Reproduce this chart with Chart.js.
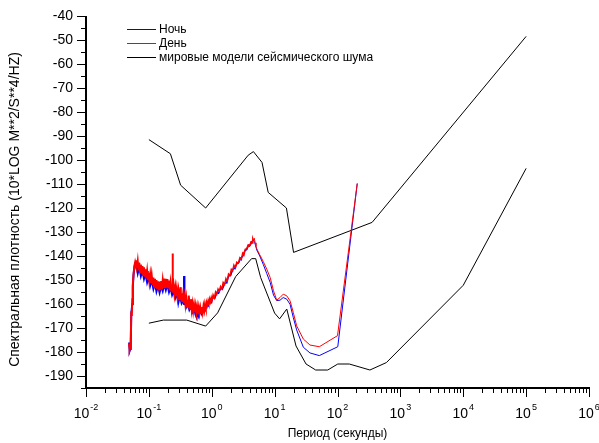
<!DOCTYPE html>
<html><head><meta charset="utf-8">
<script src="https://cdn.jsdelivr.net/npm/chart.js@4/dist/chart.umd.min.js"></script>
<style>html,body{margin:0;padding:0;background:#fff}#wrap{width:599px;height:443px}</style>
</head><body><div id="wrap"><canvas id="c" width="599" height="443"></canvas></div>
<script>
const seriesLabels = ['Ночь', 'День', 'мировые модели сейсмического шума'];
const xTitle = 'Период (секунды)';
const yTitle = 'Спектральная плотность (10*LOG M**2/S**4/HZ)';

const dayPeriods = [
 0.0485,0.0495,0.0505,0.0515,0.0525,0.0535,0.0545,0.0555,0.057,0.059,
 0.0605,0.062,0.0628,0.0645,0.0665,0.0685,0.0704,0.0725,0.0746,0.0768,
 0.079,0.0812,0.0836,0.086,0.0886,0.091,0.0938,0.0965,0.0993,0.102,
 0.105,0.108,0.111,0.115,0.118,0.121,0.125,0.128,0.132,0.136,
 0.14,0.144,0.148,0.152,0.157,0.161,0.166,0.171,0.176,0.181,
 0.186,0.191,0.197,0.203,0.209,0.215,0.221,0.228,0.234,0.2385,
 0.2395,0.241,0.248,0.255,0.263,0.27,0.278,0.286,0.295,0.303,
 0.312,0.32,0.322,0.331,0.34,0.35,0.36,0.371,0.382,0.393,
 0.404,0.416,0.428,0.43,0.44,0.453,0.466,0.48,0.494,0.508,
 0.523,0.538,0.554,0.57,0.586,0.603,0.621,0.639,0.658,0.677,
 0.697,0.717,0.738,0.76,0.781,0.805,0.827,0.85,0.876,0.9,
 0.928,0.955,0.983,1.01,1.05,1.1,1.15,1.2,1.26,1.32,
 1.38,1.45,1.52,1.6,1.68,1.76,1.85,1.95,2.05,2.15,
 2.25,2.38,2.5,2.65,2.8,2.95,3.1,3.25,3.4,3.6,
 3.8,4.0,4.2,4.4,4.5,4.6,4.75,4.9,5.05,5.2,
 5.8,6.6,7.5,8.5,9.6,10.8,12.2,13.7,15.6,17.6,
 19.8,22.4,28.6,36.5,51.4,100,206
];
const dayValues = [
 -176.5,-179,-178.2,-176,-163,-165,-158,-152,-147.5,-144,
 -142.6,-143.8,-141.8,-145,-142.2,-146,-142.9,-146.8,-143.6,-147.3,
 -144.2,-147.9,-144.7,-148.6,-145.6,-149.3,-146.3,-150,-147,-150.6,
 -147.8,-151.2,-148.1,-152,-149,-152.8,-149.5,-153.4,-150,-153.8,
 -150.6,-154.3,-150.8,-154.2,-150.5,-153.9,-150.2,-153.3,-149.4,-153,
 -149.5,-153.1,-149.6,-153.4,-150.2,-154.2,-151.2,-154.8,-151.9,-139,
 -154,-155.3,-152.6,-156,-153.2,-156.6,-153.8,-157.3,-154.4,-157.9,
 -155,-153,-158.5,-155.6,-159.1,-156.2,-159.6,-156.9,-160.3,-157.6,
 -161,-158.2,-161.5,-156.5,-158.9,-162,-158,-162.3,-159.9,-162.9,
 -160.5,-163.5,-160.9,-163.8,-161.3,-164,-161.5,-163.9,-161.6,-163.8,
 -161.3,-163.4,-160.8,-162.6,-160,-161.6,-159.2,-160.6,-158.5,-159.8,
 -157.8,-159.2,-157.3,-158.5,-156.2,-157.5,-155,-156,-153.8,-154.8,
 -152.7,-153.7,-151,-151.9,-149.4,-150.6,-147.5,-148.1,-145.6,-146.2,
 -143.8,-145,-142.6,-143,-140.8,-141.5,-138.9,-139.6,-137.2,-137,
 -135.4,-135.8,-134.2,-134.6,-132.8,-133.5,-132.6,-134.5,-135.8,-137,
 -139.5,-142.3,-145.5,-149,-154.5,-158.4,-157.3,-155.9,-156.6,-158.7,
 -163.5,-169.1,-174.6,-177.1,-177.8,-173.2,-109.8
];

const nightPeriods = [
 0.0485,0.0495,0.0505,0.0515,0.0525,0.0545,0.0555,0.057,0.059,0.0605,
 0.0628,0.0665,0.0704,0.0746,0.079,0.0836,0.0886,0.0938,0.0993,0.105,
 0.111,0.118,0.125,0.132,0.14,0.148,0.157,0.166,0.176,0.186,
 0.197,0.209,0.221,0.234,0.248,0.263,0.278,0.29,0.296,0.3,
 0.312,0.331,0.35,0.36,0.3625,0.365,0.371,0.393,0.416,0.44,
 0.466,0.494,0.523,0.554,0.575,0.586,0.621,0.658,0.697,0.738,
 0.781,0.827,0.876,0.928,0.983,1.05,1.12,1.2,1.28,1.38,
 1.48,1.6,1.72,1.85,2.0,2.15,2.3,2.5,2.7,2.9,
 3.1,3.35,3.6,3.85,4.1,4.35,4.6,4.8,5.05,5.2,
 5.8,6.6,7.5,8.5,9.6,10.8,12.2,13.7,15.6,17.6,
 19.8,22.4,28.6,36.5,51.4,101,206
];
const nightValues = [
 -176,-179.5,-178.8,-177,-164,-160,-153,-148,-144.5,-143.2,
 -143.5,-147.2,-144.5,-148.3,-146,-149.6,-147.4,-151,-148.8,-152.3,
 -150,-153.7,-151.3,-154.8,-152.4,-155.3,-152.6,-154.6,-151.8,-154.2,
 -151.7,-155,-153,-156.2,-154.4,-157.5,-155.6,-158.3,-154.5,-158.6,
 -156.8,-159.6,-158,-160.3,-148.3,-160.4,-158.6,-161.3,-159.9,-162.4,
 -161,-163.3,-161.9,-164.6,-165.6,-162.7,-165,-162.8,-164.3,-162,
 -162.6,-160.3,-160.9,-158.8,-159.4,-157.2,-157.6,-155.2,-155.5,-153.6,
 -153.8,-151.4,-151.2,-148.4,-148.1,-145.6,-145.2,-143.3,-142.6,-140.8,
 -140.1,-137.9,-137.3,-135.5,-135.4,-134,-133.3,-134.2,-136.3,-137.5,
 -140,-143.5,-147.3,-151,-156.3,-158.6,-158.4,-157.3,-158,-160.1,
 -165.6,-170.8,-178,-180.4,-181.5,-177.8,-109.8
];

// world noise models (low and high)
const lowModelPeriods = [0.1,0.17,0.4,0.8,1.24,2.4,4.3,5,6,10,12,15.6,21.9,31.6,45,70,101,154,328,600,10000,100000];
const lowModelValues = [-168.0,-166.7,-166.7,-169.2,-163.7,-148.6,-141.1,-141.1,-149.0,-163.8,-166.2,-162.1,-177.5,-185.0,-187.5,-187.5,-185.0,-185.0,-187.5,-184.4,-152.2,-103.5];
const highModelPeriods = [0.1,0.22,0.32,0.8,3.8,4.6,6.3,7.9,15.4,20,354.8,100000];
const highModelValues = [-91.5,-97.4,-110.5,-120.0,-98.0,-96.5,-101.0,-113.5,-120.0,-138.5,-126.0,-48.5];

const xTickValues = [1e-2,1e-1,1e0,1e1,1e2,1e3,1e4,1e5,1e6];
const xTickExponents = ['-2','-1','0','1','2','3','4','5','6'];
const yTickValues = [-190,-180,-170,-160,-150,-140,-130,-120,-110,-100,-90,-80,-70,-60,-50,-40];
const yMinorValues = [-195,-185,-175,-165,-155,-145,-135,-125,-115,-105,-95,-85,-75,-65,-55,-45];

const seriesColors = {night: '#0000ff', day: '#ff0000', model: '#000000'};

const pts = (px, py) => px.map((p, i) => ({x: p, y: py[i]}));
const FONT = '"Liberation Sans", Arial, sans-serif';
Chart.defaults.font.family = FONT;
Chart.defaults.color = '#000';

const noisyWidth = c => (c.p0.parsed.x < 0.8 ? 2 : (c.p0.parsed.x < 4.6 ? 1.5 : 1));

const axesPlugin = {
  id: 'originAxes',
  afterDraw(chart) {
    const {ctx, chartArea: a, scales: {x, y}} = chart;
    ctx.save();
    ctx.strokeStyle = '#000';
    ctx.fillStyle = '#000';
    // ticks
    ctx.lineWidth = 1;
    ctx.beginPath();
    xTickValues.forEach(v => {
      const px = Math.round(x.getPixelForValue(v)) + 0.5;
      ctx.moveTo(px, a.bottom); ctx.lineTo(px, a.bottom + 9);
    });
    xTickValues.slice(0, -1).forEach(v => {
      for (let m = 2; m <= 9; m++) {
        const px = Math.round(x.getPixelForValue(v * m)) + 0.5;
        ctx.moveTo(px, a.bottom); ctx.lineTo(px, a.bottom + 5);
      }
    });
    yTickValues.forEach(v => {
      const py = Math.round(y.getPixelForValue(v)) + 0.5;
      ctx.moveTo(a.left, py); ctx.lineTo(a.left - 9, py);
    });
    yMinorValues.forEach(v => {
      const py = Math.round(y.getPixelForValue(v)) + 0.5;
      ctx.moveTo(a.left, py); ctx.lineTo(a.left - 5, py);
    });
    ctx.stroke();
    // axis lines
    ctx.lineWidth = 2;
    ctx.beginPath();
    ctx.moveTo(a.left, a.top); ctx.lineTo(a.left, a.bottom + 1);
    ctx.moveTo(a.left - 1, a.bottom); ctx.lineTo(a.right + 1, a.bottom);
    ctx.stroke();
    // x tick labels: 10 with superscript exponent
    ctx.textBaseline = 'alphabetic';
    ctx.textAlign = 'left';
    xTickValues.forEach((v, i) => {
      const px = x.getPixelForValue(v);
      const e = xTickExponents[i];
      ctx.font = '14px ' + FONT;
      const w1 = ctx.measureText('10').width;
      ctx.font = '9px ' + FONT;
      const w2 = ctx.measureText(e).width;
      const start = px - (w1 + 1 + w2) / 2;
      ctx.font = '14px ' + FONT;
      ctx.fillText('10', start, a.bottom + 30);
      ctx.font = '9px ' + FONT;
      ctx.fillText(e, start + w1 + 1, a.bottom + 21.5);
    });
    // y axis title
    ctx.save();
    ctx.translate(15, (a.top + a.bottom) / 2 + 7.5);
    ctx.rotate(-Math.PI / 2);
    ctx.font = '14px ' + FONT;
    ctx.textAlign = 'center';
    ctx.textBaseline = 'middle';
    ctx.fillText(yTitle, 0, 0);
    ctx.restore();
    // legend
    const entries = [
      {label: seriesLabels[0], color: seriesColors.night},
      {label: seriesLabels[1], color: seriesColors.day},
      {label: seriesLabels[2], color: seriesColors.model}
    ];
    ctx.font = '12px ' + FONT;
    ctx.textBaseline = 'middle';
    ctx.textAlign = 'left';
    entries.forEach((d, i) => {
      const ly = Math.round(a.top + 12.5 + i * 14.3) + 0.5;
      ctx.strokeStyle = d.color;
      ctx.lineWidth = 1;
      ctx.beginPath();
      ctx.moveTo(a.left + 41, ly); ctx.lineTo(a.left + 70, ly);
      ctx.stroke();
      ctx.fillStyle = '#000';
      ctx.fillText(d.label, a.left + 73, ly + 0.5);
    });
    ctx.restore();
  }
};

new Chart(document.getElementById('c'), {
  type: 'line',
  data: {
    datasets: [
      {label: seriesLabels[1], data: pts(dayPeriods, dayValues), borderColor: seriesColors.day, borderWidth: 1, order: 0, segment: {borderWidth: noisyWidth}},
      {label: seriesLabels[0], data: pts(nightPeriods, nightValues), borderColor: seriesColors.night, borderWidth: 1, order: 1, segment: {borderWidth: noisyWidth}},
      {label: seriesLabels[2], data: pts(lowModelPeriods, lowModelValues), borderColor: seriesColors.model, borderWidth: 1, order: 2},
      {label: seriesLabels[2], data: pts(highModelPeriods, highModelValues), borderColor: seriesColors.model, borderWidth: 1, order: 3}
    ]
  },
  options: {
    responsive: false,
    animation: false,
    elements: {point: {radius: 0, hoverRadius: 0}, line: {tension: 0, fill: false}},
    layout: {padding: {top: 16, right: 10, bottom: 0, left: 0}},
    plugins: {legend: {display: false}, tooltip: {enabled: false}},
    scales: {
      x: {
        type: 'logarithmic', min: 0.01, max: 1e6,
        grid: {display: false, drawTicks: false},
        border: {display: false},
        ticks: {display: false},
        title: {display: true, text: xTitle, font: {size: 12}, color: '#000', padding: {top: 0, bottom: 2}},
        afterBuildTicks: s => { s.ticks = xTickValues.map(v => ({value: v})); },
        afterFit: s => { s.height = 55; s.paddingLeft = 0; s.paddingRight = 0; }
      },
      y: {
        type: 'linear', min: -195, max: -40,
        grid: {display: false, drawTicks: false},
        border: {display: false},
        ticks: {font: {size: 14}, padding: 13, color: '#000', autoSkip: false},
        title: {display: false},
        afterBuildTicks: s => { s.ticks = yTickValues.map(v => ({value: v})); },
        afterFit: s => { s.width = 86; s.paddingTop = 0; s.paddingBottom = 0; }
      }
    }
  },
  plugins: [axesPlugin]
});
</script>
</body></html>
